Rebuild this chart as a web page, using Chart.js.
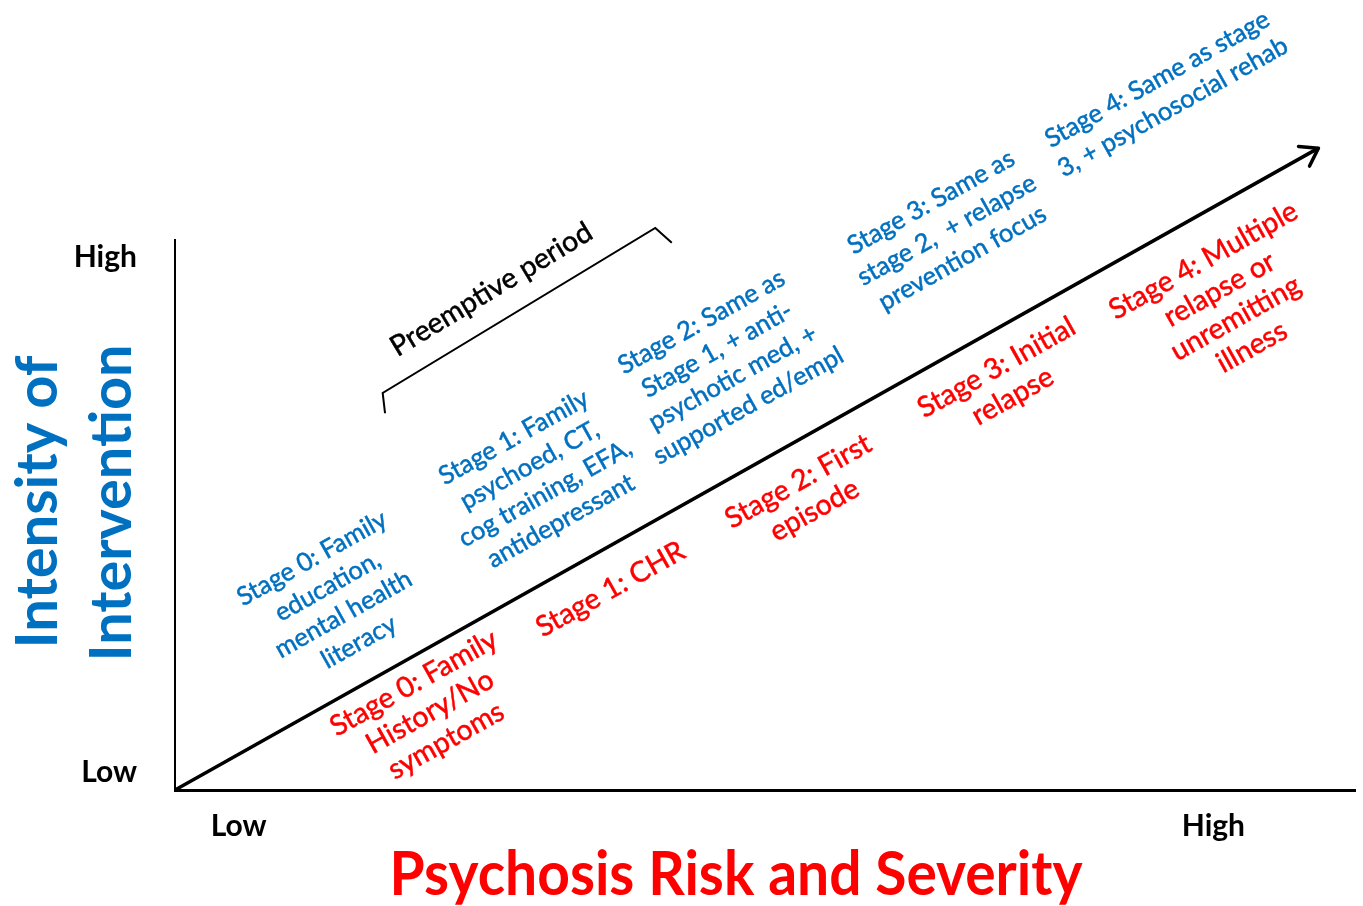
<!DOCTYPE html>
<html>
<head>
<meta charset="utf-8">
<script src="https://cdn.jsdelivr.net/npm/chart.js@4.4.1/dist/chart.umd.min.js"></script>
<style>
    html, body { margin: 0; padding: 0; background: #fff; overflow: hidden; }
    #wrap { width: 1363px; height: 906px; }
</style>
</head>
<body>
<div id="wrap"><canvas id="stagingChart"></canvas></div>
<script>
// Ticks dos eixos
const xTickLabels = ['Low', 'High'];
const xTickValues = [5.4, 88.0];
const yTickLabels = ['Low', 'High'];
const yTickValues = [3.3, 96.9];

// Seta diagonal (risco x intensidade)
const arrowX = [0, 96.9];
const arrowY = [0, 116.7];

// Colchete "Preemptive period"
const bracketX = [17.8, 17.6, 40.7, 42.1];
const bracketY = [68.5, 72.2, 102.2, 99.5];
const bracketText = 'Preemptive period';
const bracketTextX = 26.8;
const bracketTextY = 91.0;

// Intervenções (azul), acima da seta
const interventionLabels = [
    ['Stage 0: Family', 'education,', 'mental health', 'literacy'],
    ['Stage 1: Family', 'psychoed, CT,', 'cog training, EFA,', 'antidepressant'],
    ['Stage 2: Same as', 'Stage 1, + anti-', 'psychotic med, +', 'supported ed/empl'],
    ['Stage 3: Same as', 'stage 2,  + relapse', 'prevention focus'],
    ['Stage 4: Same as stage', '3, + psychosocial rehab']
];
const interventionX = [13.6, 30.7, 46.6, 65.4, 83.9];
const interventionY = [34.5, 56.5, 77.5, 101.8, 126.7];

// Estágios clínicos (vermelho), abaixo da seta
const stageLabels = [
    ['Stage 0: Family', 'History/No', 'symptoms'],
    ['Stage 1: CHR'],
    ['Stage 2: First', 'episode'],
    ['Stage 3: Initial', 'relapse'],
    ['Stage 4: Multiple', 'relapse or', 'unremitting', 'illness']
];
const stageX = [21.6, 36.9, 53.5, 70.3, 89.2];
const stageY = [14.2, 36.5, 53.5, 74.2, 88.4];

const xTitle = 'Psychosis Risk and Severity';
const yTitle = ['Intensity of', 'Intervention'];

const BLUE = '#0070C0';
const RED = '#FF0000';
const FONT = 'Lato, "Open Sans", sans-serif';

// desenha bloco de texto centralizado e girado
function drawBlock(ctx, lines, px, py, angle, color, size, lineHeight) {
    ctx.save();
    ctx.translate(px, py);
    ctx.rotate(angle);
    ctx.fillStyle = color;
    ctx.strokeStyle = color;
    ctx.lineWidth = 0.5;
    ctx.font = size + 'px ' + FONT;
    ctx.textAlign = 'center';
    ctx.textBaseline = 'middle';
    lines.forEach((line, i) => {
        const dy = (i - (lines.length - 1) / 2) * lineHeight;
        ctx.fillText(line, 0, dy);
        ctx.strokeText(line, 0, dy); // engrossa um pouco o traço
    });
    ctx.restore();
}

// texto com largura ajustada
function drawFitted(ctx, text, cx, baseline, size, targetWidth, color) {
    ctx.save();
    ctx.font = 'bold ' + size + 'px ' + FONT;
    const w = ctx.measureText(text).width;
    ctx.translate(cx, baseline);
    ctx.scale(targetWidth / w, 1);
    ctx.fillStyle = color;
    ctx.textAlign = 'center';
    ctx.textBaseline = 'alphabetic';
    ctx.fillText(text, 0, 0);
    ctx.restore();
}

const diagramPlugin = {
    id: 'diagramText',
    afterDatasetsDraw(chart) {
        const ctx = chart.ctx;
        const xs = chart.scales.x;
        const ys = chart.scales.y;

        // ângulo da seta em pixels
        const x0 = xs.getPixelForValue(arrowX[0]), y0 = ys.getPixelForValue(arrowY[0]);
        const x1 = xs.getPixelForValue(arrowX[1]), y1 = ys.getPixelForValue(arrowY[1]);
        const angle = Math.atan2(y1 - y0, x1 - x0);

        // ponta da seta (aberta)
        ctx.save();
        ctx.strokeStyle = '#000';
        ctx.lineWidth = 3.5;
        ctx.lineCap = 'round';
        ctx.lineJoin = 'round';
        const len = 20, spread = 0.6;
        ctx.beginPath();
        ctx.moveTo(x1 - len * Math.cos(angle - spread), y1 - len * Math.sin(angle - spread));
        ctx.lineTo(x1, y1);
        ctx.lineTo(x1 - len * Math.cos(angle + spread), y1 - len * Math.sin(angle + spread));
        ctx.stroke();
        ctx.restore();

        interventionLabels.forEach((lines, i) => {
            drawBlock(ctx, lines, xs.getPixelForValue(interventionX[i]), ys.getPixelForValue(interventionY[i]),
                angle, BLUE, 25.5, 32);
        });
        stageLabels.forEach((lines, i) => {
            drawBlock(ctx, lines, xs.getPixelForValue(stageX[i]), ys.getPixelForValue(stageY[i]),
                angle, RED, 28.5, 33);
        });
        drawBlock(ctx, [bracketText], xs.getPixelForValue(bracketTextX), ys.getPixelForValue(bracketTextY),
            Math.atan2(-165, 272), '#000', 28.5, 34);

        // títulos dos eixos
        drawFitted(ctx, xTitle, 736, 895, 62, 693, RED);
        ctx.save();
        ctx.rotate(-Math.PI / 2);
        drawFitted(ctx, yTitle[0], -502, 57, 58, 293, BLUE);
        drawFitted(ctx, yTitle[1], -503, 131, 58, 317, BLUE);
        ctx.restore();
    }
};

new Chart(document.getElementById('stagingChart'), {
    type: 'scatter',
    data: {
        datasets: [
            {
                label: 'arrow',
                data: arrowX.map((x, i) => ({ x: x, y: arrowY[i] })),
                showLine: true,
                borderColor: '#000',
                borderWidth: 3.5,
                pointRadius: 0,
                clip: false
            },
            {
                label: 'bracket',
                data: bracketX.map((x, i) => ({ x: x, y: bracketY[i] })),
                showLine: true,
                borderColor: '#000',
                borderWidth: 2,
                pointRadius: 0,
                clip: false
            }
        ]
    },
    options: {
        responsive: true,
        maintainAspectRatio: false,
        animation: false,
        layout: { padding: { top: 240, right: 8, left: 0, bottom: 0 } },
        plugins: {
            legend: { display: false },
            tooltip: { enabled: false }
        },
        scales: {
            x: {
                type: 'linear',
                min: 0,
                max: 100,
                afterFit: s => { s.height = 116; },
                afterBuildTicks: s => { s.ticks = xTickValues.map(v => ({ value: v })); },
                ticks: {
                    callback: (v, i) => xTickLabels[i],
                    font: { family: FONT, size: 30, weight: 'bold' },
                    color: '#000',
                    padding: 18,
                    maxRotation: 0,
                    autoSkip: false
                },
                grid: { display: false, drawTicks: false },
                border: { display: true, color: '#000', width: 3 }
            },
            y: {
                type: 'linear',
                min: 0,
                max: 100,
                afterFit: s => { s.width = 175; },
                afterBuildTicks: s => { s.ticks = yTickValues.map(v => ({ value: v })); },
                ticks: {
                    callback: (v, i) => yTickLabels[i],
                    font: { family: FONT, size: 30, weight: 'bold' },
                    color: '#000',
                    padding: 38,
                    autoSkip: false
                },
                grid: { display: false, drawTicks: false },
                border: { display: true, color: '#000', width: 2 }
            }
        }
    },
    plugins: [diagramPlugin]
});
</script>
</body>
</html>
